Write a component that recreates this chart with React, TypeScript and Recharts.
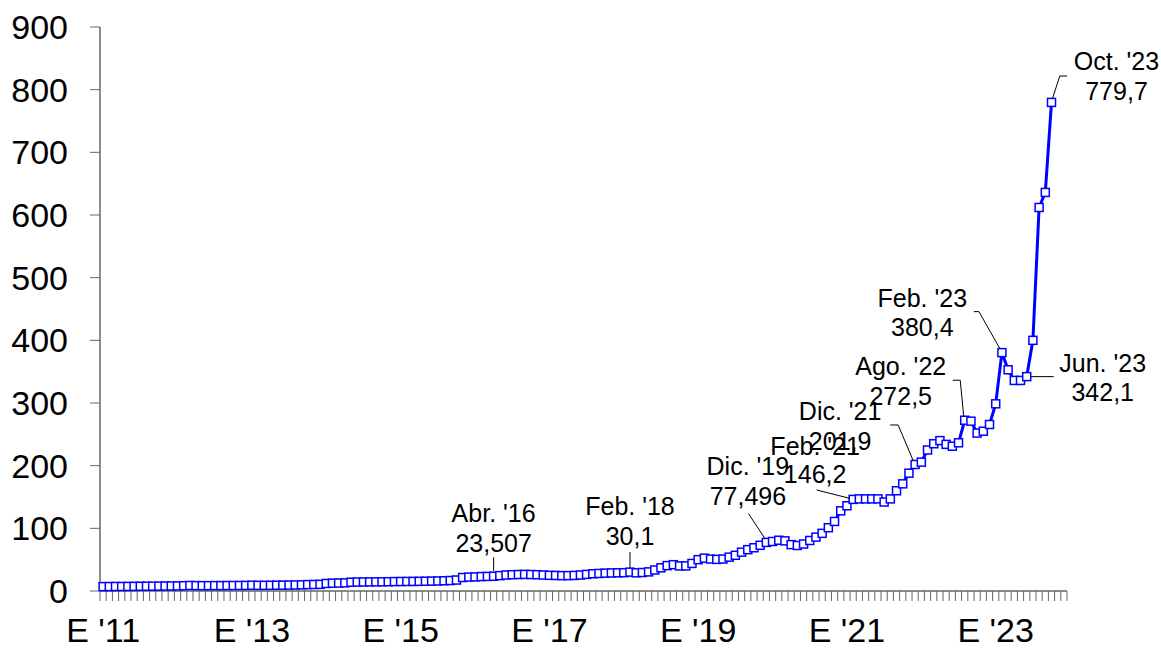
import React from 'react';
import { LineChart, Line, XAxis, YAxis } from 'recharts';

const FONT = "'Liberation Sans', Arial, sans-serif";

const monthAbbr = ['E', 'F', 'M', 'A', 'M', 'J', 'J', 'A', 'S', 'O', 'N', 'D'];
const years = [2011, 2012, 2013, 2014, 2015, 2016, 2017, 2018, 2019, 2020, 2021, 2022, 2023];

// Monthly values, Jan 2011 .. Oct 2023
const values = [
  // 2011
  7.0, 7.1, 7.2, 7.2, 7.3, 7.4, 7.5, 7.6, 7.7, 7.8, 7.9, 8.0,
  // 2012
  8.1, 8.4, 8.8, 8.6, 8.5, 8.5, 8.6, 8.6, 8.7, 8.7, 8.8, 8.9,
  // 2013
  9.2, 9.0, 9.0, 9.1, 9.2, 9.3, 9.4, 9.6, 9.8, 10.2, 10.4, 10.6,
  // 2014
  12.0, 12.5, 12.7, 13.0, 14.0, 14.3, 14.4, 14.5, 14.6, 14.7, 14.8, 15.0,
  // 2015
  15.1, 15.2, 15.3, 15.4, 15.6, 15.8, 16.0, 16.3, 16.7, 17.5, 21.5, 22.2,
  // 2016
  22.5, 23.0, 23.3, 23.507, 24.5, 25.5, 26.0, 26.3, 26.5, 26.3, 26.0, 25.5,
  // 2017
  25.0, 24.8, 24.5, 24.5, 24.8, 25.5, 26.5, 27.5, 28.0, 28.5, 28.8, 29.0,
  // 2018
  29.2, 30.1, 29.0, 29.5, 30.5, 33.5, 37.0, 40.5, 42.0, 40.0, 40.0, 44.0,
  // 2019
  50.0, 52.4, 51.0, 50.4, 51.0, 54.0, 57.0, 62.0, 66.0, 69.0, 73.0, 77.496,
  // 2020
  79.0, 81.0, 80.0, 74.0, 72.6, 75.0, 80.6, 86.0, 92.0, 101.0, 111.0, 128.0,
  // 2021
  136.0, 146.2, 147.0, 147.0, 147.0, 147.0, 142.0, 147.0, 160.0, 171.0, 188.0, 201.9,
  // 2022
  205.6, 225.0, 235.0, 240.0, 234.0, 231.0, 236.5, 272.5, 271.0, 252.0, 255.0, 265.7,
  // 2023
  298.7, 380.4, 353.0, 336.0, 336.0, 342.1, 400.0, 612.0, 636.0, 779.7,
];

const categories: string[] = [];
years.forEach((y) => monthAbbr.forEach((m) => categories.push(`${m} '${String(y).slice(2)}`)));

const yTicks = [0, 100, 200, 300, 400, 500, 600, 700, 800, 900];
const xLabelTicks = [0, 24, 48, 72, 96, 120, 144];
const xLabelText = ["E '11", "E '13", "E '15", "E '17", "E '19", "E '21", "E '23"];
const monthTickMarks = Array.from({ length: categories.length + 1 }, (_, k) => k - 0.5);

const callouts = [
  { index: 63, title: "Abr. '16", value: '23,507' },
  { index: 85, title: "Feb. '18", value: '30,1' },
  { index: 107, title: "Dic. '19", value: '77,496' },
  { index: 121, title: "Feb. '21", value: '146,2' },
  { index: 131, title: "Dic. '21", value: '201,9' },
  { index: 139, title: "Ago. '22", value: '272,5' },
  { index: 145, title: "Feb. '23", value: '380,4' },
  { index: 149, title: "Jun. '23", value: '342,1' },
  { index: 153, title: "Oct. '23", value: '779,7' },
];

// label placement relative to the data point (style/layout only)
const calloutLayout: Record<number, { dx: number; dy1: number; dy2: number; leader: number[][] }> = {
  63: { dx: 0, dy1: -54, dy2: -24, leader: [[0, -19], [0, -5]] },
  85: { dx: 0, dy1: -57, dy2: -27, leader: [[0, -20], [0, -4]] },
  107: { dx: -18.5, dy1: -67, dy2: -37, leader: [[-18, -29], [-1.5, -4]] },
  121: { dx: -38, dy1: -44, dy2: -16, leader: [[-36.6, -9.4], [-3.3, -1]] },
  131: { dx: -75, dy1: -44, dy2: -14, leader: [[-25, -39.5], [-17, -39.5], [-2, -4]] },
  139: { dx: -64, dy1: -45, dy2: -15, leader: [[-12, -40], [-4.5, -40], [-1, -4]] },
  145: { dx: -79.6, dy1: -45.4, dy2: -17, leader: [[-28, -41], [-23, -41], [-2, -4]] },
  149: { dx: 76, dy1: -4.4, dy2: 24, leader: [[4, 0], [27, 0]] },
  153: { dx: 65, dy1: -32.4, dy2: -2.4, leader: [[15.6, -26.4], [8.3, -26.4], [1, -4]] },
};

const data = values.map((v, i) => ({ i, month: categories[i], v }));

const renderDot = (props: any) => {
  const { cx, cy, index } = props;
  if (cx == null || cy == null) return <g key={`d-${index}`} />;
  const c = callouts.find((k) => k.index === index);
  const lay = c ? calloutLayout[c.index] : null;
  return (
    <g key={`d-${index}`}>
      <rect x={cx - 4} y={cy - 4} width={8} height={8} fill="#ffffff" stroke="#0000ff" strokeWidth={1.5} />
      {c && lay && (
        <g>
          <polyline
            points={lay.leader.map(([a, b]) => `${cx + a},${cy + b}`).join(' ')}
            fill="none"
            stroke="#000"
            strokeWidth={1}
          />
          <text x={cx + lay.dx} y={cy + lay.dy1} textAnchor="middle" fontSize={25} fontFamily={FONT} fill="#000">
            {c.title}
          </text>
          <text x={cx + lay.dx} y={cy + lay.dy2} textAnchor="middle" fontSize={25} fontFamily={FONT} fill="#000">
            {c.value}
          </text>
        </g>
      )}
    </g>
  );
};

export default function App() {
  return (
    <div style={{ position: 'absolute', left: 0, top: 0, background: '#fff' }}>
      <LineChart width={1161} height={648} data={data} margin={{ top: 27, right: 94, bottom: 0, left: 0 }}>
        <XAxis
          xAxisId="a_ticks"
          type="number"
          dataKey="i"
          domain={[-0.5, 155.5]}
          ticks={monthTickMarks}
          interval={0}
          tickSize={10}
          height={10}
          tickFormatter={() => ''}
          axisLine={{ stroke: '#666', strokeWidth: 1.5 }}
          tickLine={{ stroke: '#666' }}
        />
        <XAxis
          xAxisId="b_labels"
          type="number"
          dataKey="i"
          domain={[-0.5, 155.5]}
          allowDataOverflow
          ticks={xLabelTicks}
          interval={0}
          tickSize={0}
          tickMargin={17}
          height={47}
          axisLine={false}
          tickLine={false}
          tickFormatter={(v: number) => xLabelText[xLabelTicks.indexOf(v)] ?? ''}
          tick={{ fontSize: 34, fill: '#000', fontFamily: FONT }}
        />
        <YAxis
          type="number"
          domain={[0, 900]}
          ticks={yTicks}
          interval={0}
          width={100}
          tickSize={10}
          tickMargin={22}
          axisLine={{ stroke: '#666', strokeWidth: 1.5 }}
          tickLine={{ stroke: '#666' }}
          tick={{ fontSize: 34, fill: '#000', fontFamily: FONT }}
        />
        <Line
          xAxisId="a_ticks"
          type="linear"
          dataKey="v"
          stroke="#0000ff"
          strokeWidth={3}
          dot={renderDot}
          activeDot={false}
          isAnimationActive={false}
        />
      </LineChart>
    </div>
  );
}
